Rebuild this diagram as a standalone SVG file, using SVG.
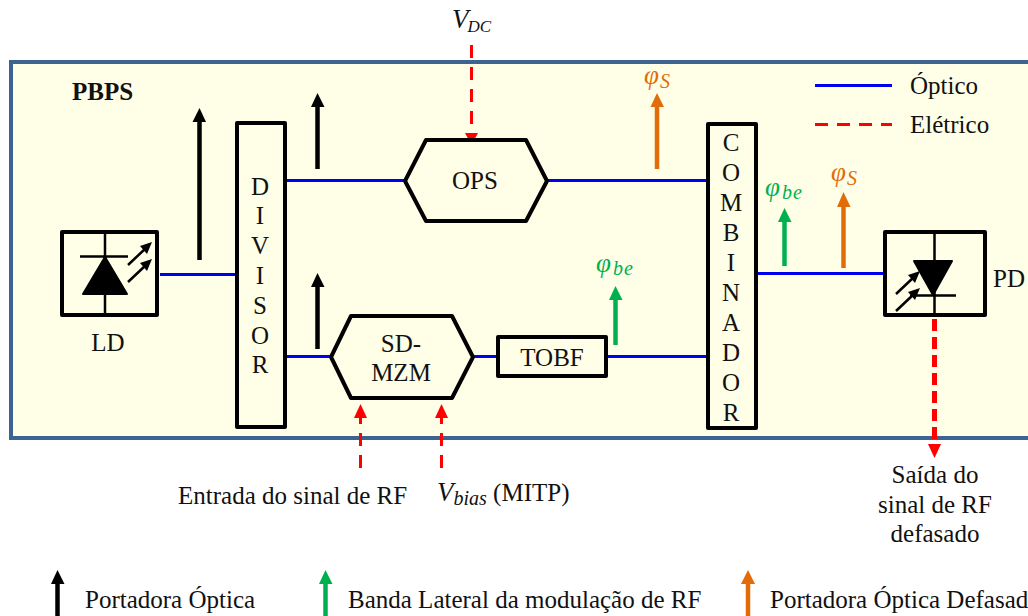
<svg xmlns="http://www.w3.org/2000/svg" width="1028" height="616" viewBox="0 0 1028 616">
<style>
text{font-family:"Liberation Serif","Times New Roman",serif;font-size:25px;fill:#111}
.m{text-anchor:middle}
.i{font-style:italic}
.v{font-size:27px}
.s{font-size:20px}
.box{fill:#feffe6;stroke:#000;stroke-width:4;stroke-linejoin:round}
.thin{fill:none;stroke:#000;stroke-width:2.5}
.opt{fill:none;stroke:#0000f0;stroke-width:3}
.ele{fill:none;stroke:#f00;stroke-width:3;stroke-dasharray:13 9}
.blk{stroke:#000;stroke-width:4.5}
.grn{stroke:#00b050;stroke-width:4.5}
.org{stroke:#e36c0a;stroke-width:4.5}
.g,text.g,text .g{fill:#00b050}.o,text.o,text .o{fill:#e36c0a}
</style>
<rect id="panel" x="11" y="62" width="1030" height="376" fill="#feffe6" stroke="#3d6491" stroke-width="4"/>
<g id="connectors">
<path class="opt" d="M160 274.500H235M286 180.500H405M547 180.500H707M286 356.500H331M472 356.500H498M606 356.500H707M756 273.500H885"/>
<path class="opt" d="M815 85.500H892"/>
<path class="ele" d="M815 124.500H892"/>
<path class="ele" d="M471.500 45V140"/>
<path fill="#f00" d="M465 133H478L471.500 145Z"/>
<path class="ele" d="M360.500 468V418"/>
<path fill="#f00" d="M354 418H367L360.500 404Z"/>
<path class="ele" d="M441.500 468V418"/>
<path fill="#f00" d="M435 418H448L441.500 404Z"/>
<path d="M934.500 319V446" fill="none" stroke="#f00" stroke-width="5" stroke-dasharray="12 6"/>
<path fill="#f00" d="M928 444H941L934.500 458Z"/>
</g>
<g id="carriers">
<path class="blk" d="M199.500 260V118"/><path d="M192.500 122H206L199.500 108Z"/>
<path class="blk" d="M317.500 169V104"/><path d="M311 107H324.500L317.500 93Z"/>
<path class="blk" d="M317.500 349V284"/><path d="M311 287H324.500L317.500 273Z"/>
<path class="org" d="M657 169V105"/><path class="o" d="M650.500 107H664L657 93Z"/>
<path class="grn" d="M615.500 345V298"/><path class="g" d="M609 300H622.500L615.500 286Z"/>
<path class="grn" d="M784.500 266V222"/><path class="g" d="M778 222H791.500L784.500 208Z"/>
<path class="org" d="M843.500 268V207"/><path class="o" d="M837 207H850.500L843.500 192Z"/>
</g>
<text x="72" y="100" style="font-weight:bold">PBPS</text>
<g id="LD">
<rect class="box" x="62" y="232" width="95" height="83"/>
<path class="thin" d="M105 232V315M80 256.500H128"/>
<path d="M105 257L127 294H83Z" stroke="#000" stroke-width="2" stroke-linejoin="round"/>
<path class="thin" d="M128 265L146 248M128 282L146 265" stroke-width="2"/>
<path d="M152 242L147 254L140 246ZM152 259L147 271L140 263Z"/>
<text class="m" x="108" y="351">LD</text>
</g>
<g id="DIVISOR">
<rect class="box" x="237" y="123" width="48" height="304"/>
<text class="m" x="260" y="195">D</text><text class="m" x="260" y="224">I</text><text class="m" x="260" y="254">V</text><text class="m" x="260" y="284">I</text><text class="m" x="260" y="314">S</text><text class="m" x="260" y="344">O</text><text class="m" x="260" y="373">R</text>
</g>
<g id="OPS">
<path class="box" d="M426 140H526L547 181L526 221H426L405 181Z"/>
<text class="m" x="475" y="189">OPS</text>
</g>
<g id="SDMZM">
<path class="box" d="M351 316H452L473 357L452 398H351L331 357Z"/>
<text class="m" x="401" y="352">SD-</text><text class="m" x="401" y="381">MZM</text>
</g>
<g id="TOBF">
<rect class="box" x="498" y="337" width="108" height="39"/>
<text class="m" x="552" y="366">TOBF</text>
</g>
<g id="COMBINADOR">
<rect class="box" x="708" y="124" width="48" height="304"/>
<text class="m" x="731" y="151">C</text><text class="m" x="731" y="181">O</text><text class="m" x="731" y="211">M</text><text class="m" x="731" y="241">B</text><text class="m" x="731" y="271">I</text><text class="m" x="731" y="301">N</text><text class="m" x="731" y="331">A</text><text class="m" x="731" y="361">D</text><text class="m" x="731" y="391">O</text><text class="m" x="731" y="421">R</text>
</g>
<g id="PD">
<rect class="box" x="885" y="232" width="100" height="83"/>
<path class="thin" d="M934.500 232V315M910 295.500H956"/>
<path d="M914 261H952L933 295Z" stroke="#000" stroke-width="2" stroke-linejoin="round"/>
<path class="thin" d="M896 294L914 277M896 311L914 294" stroke-width="2"/>
<path d="M920 271L915 283L908 275ZM920 288L915 300L908 292Z"/>
<text x="993" y="287">PD</text>
</g>
<text x="452" y="28" class="i v">V<tspan dy="4" dx="-1" style="font-size:17px">DC</tspan></text>
<text x="644" y="84" class="i v o">φ<tspan dy="4" dx="1" class="s">S</tspan></text>
<text x="596" y="272" class="i v g">φ<tspan dy="3" dx="2" class="s" letter-spacing="1">be</tspan></text>
<text x="765" y="196" class="i v g">φ<tspan dy="3" dx="2" class="s" letter-spacing="1">be</tspan></text>
<text x="831" y="181" class="i v o">φ<tspan dy="4" dx="1" class="s">S</tspan></text>
<text x="910" y="94">Óptico</text>
<text x="910" y="133">Elétrico</text>
<text x="178" y="504">Entrada do sinal de RF</text>
<text x="437" y="501"><tspan class="i v">V</tspan><tspan class="i s" dy="4">bias</tspan><tspan dy="-4"> (MITP)</tspan></text>
<text class="m" x="935" y="483">Saída do</text><text class="m" x="935" y="513">sinal de RF</text><text class="m" x="935" y="542">defasado</text>
<g id="legend">
<path class="blk" d="M57.500 616V582"/><path d="M51 584H64.500L57.500 570Z"/>
<path class="grn" d="M325.500 616V582"/><path class="g" d="M319 584H332.500L325.500 570Z"/>
<path class="org" d="M748 616V582"/><path class="o" d="M741 584H755L748 570Z"/>
<text x="85" y="608">Portadora Óptica</text>
<text x="348" y="608">Banda Lateral da modulação de RF</text>
<text x="770" y="608">Portadora Óptica Defasad</text>
</g>
</svg>
